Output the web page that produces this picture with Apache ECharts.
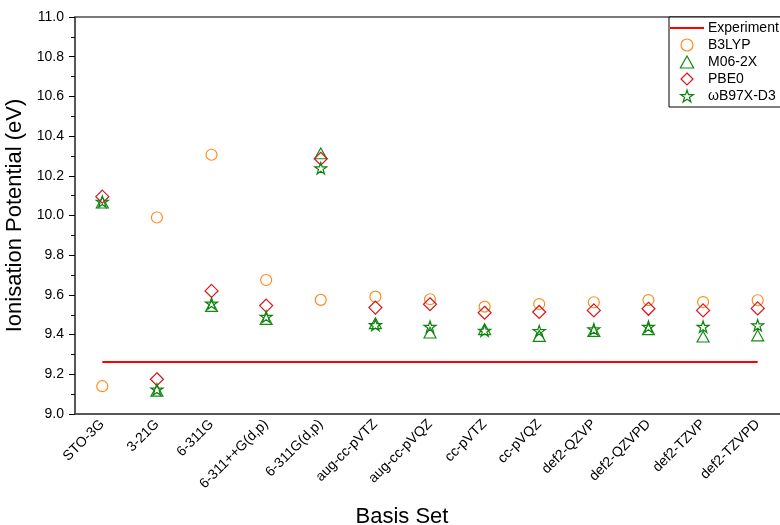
<!DOCTYPE html>
<html>
<head>
<meta charset="utf-8">
<script src="https://cdn.jsdelivr.net/npm/echarts@6/dist/echarts.min.js"></script>
<style>html,body{margin:0;padding:0;background:#fff}#c{width:780px;height:525px}</style>
</head>
<body>
<div id="c"></div>
<script>
const categories = ['STO-3G','3-21G','6-311G','6-311++G(d,p)','6-311G(d,p)','aug-cc-pVTZ','aug-cc-pVQZ','cc-pVTZ','cc-pVQZ','def2-QZVP','def2-QZVPD','def2-TZVP','def2-TZVPD'];
const experiment = [9.262,9.262,9.262,9.262,9.262,9.262,9.262,9.262,9.262,9.262,9.262,9.262,9.262];
const b3lyp = [9.14, 9.99, 10.306, 9.675, 9.575, 9.591, 9.578, 9.541, 9.554, 9.563, 9.574, 9.564, 9.573];
const m062x = [10.065, 9.117, 9.544, 9.479, 10.313, 9.457, 9.41, 9.427, 9.393, 9.418, 9.427, 9.39, 9.396];
const pbe0 = [10.095, 9.175, 9.62, 9.546, 10.286, 9.536, 9.553, 9.51, 9.514, 9.522, 9.53, 9.522, 9.532];
const wb97x = [10.07, 9.124, 9.557, 9.49, 10.238, 9.448, 9.44, 9.42, 9.418, 9.427, 9.44, 9.44, 9.447];
const yTicks = {min: 9.0, max: 11.0, interval: 0.2};

const FONT = 'Liberation Sans, Arial, sans-serif';
const AX = '#4d4d4d';
const STAR = 'path://M50,0 L61.2,34.5 L97.6,34.5 L68.2,55.9 L79.4,90.5 L50,69.1 L20.6,90.5 L31.8,55.9 L2.4,34.5 L38.8,34.5 Z';
const TRI = 'path://M50,0 L100,90 L0,90 Z';
const DIA = 'path://M50,0 L100,50 L50,100 L0,50 Z';
const LINE = 'path://M0,0 L340,0 L340,22 L0,22 Z';

const C_EXP = '#ff0000', C_B3 = '#ff8c1a', C_M06 = '#138a13', C_PBE = '#d8141e', C_WB = '#0f820f';

const chart = echarts.init(document.getElementById('c'), null, {renderer: 'canvas'});
function scatter(name, data, symbol, color, size) {
  return {
    name, type: 'scatter', data, symbol, symbolSize: size, symbolKeepAspect: true,
    itemStyle: {color: 'rgba(255,255,255,0)', borderColor: color, borderWidth: 1.2, opacity: 1},
    z: 3
  };
}
function legItem(name, icon, color) {
  return {name, icon, itemStyle: {color: 'rgba(255,255,255,0)', borderColor: color, borderWidth: 1.2}};
}
chart.setOption({
  animation: false,
  backgroundColor: '#fff',
  grid: {left: 75, top: 17, right: -5, bottom: 111, containLabel: false, outerBoundsMode: 'none',
         show: true, borderColor: AX, borderWidth: 1.5, backgroundColor: 'transparent'},
  legend: {
    orient: 'vertical', left: 669, top: 17,
    padding: [4, 40, 4, 1],
    itemWidth: 34, itemHeight: 12, itemGap: 3,
    symbolKeepAspect: true,
    backgroundColor: '#fff', borderColor: '#000', borderWidth: 1,
    textStyle: {fontFamily: FONT, fontSize: 14, lineHeight: 14, color: '#000', padding: [0,0,0,-1]},
    data: [
      {name: 'Experiment', icon: LINE, itemStyle: {color: C_EXP, borderWidth: 0}},
      legItem('B3LYP', 'circle', C_B3),
      legItem('M06-2X', TRI, C_M06),
      legItem('PBE0', DIA, C_PBE),
      legItem('ωB97X-D3', STAR, C_WB)
    ]
  },
  xAxis: {
    type: 'category', data: categories, boundaryGap: true,
    name: 'Basis Set', nameLocation: 'middle', nameGap: 92,
    nameTextStyle: {fontFamily: FONT, fontSize: 22, color: '#000', padding: [0, 56, 0, 0]},
    axisLine: {lineStyle: {color: AX, width: 1.5}},
    axisTick: {alignWithLabel: true, length: 6, lineStyle: {color: '#000'}},
    axisLabel: {rotate: 45, fontFamily: FONT, fontSize: 14, color: '#000', margin: 8, interval: 0},
    splitLine: {show: false}
  },
  yAxis: {
    type: 'value', min: yTicks.min, max: yTicks.max, interval: yTicks.interval,
    name: 'Ionisation Potential (eV)', nameLocation: 'middle', nameGap: 46,
    nameTextStyle: {fontFamily: FONT, fontSize: 22, color: '#000'},
    axisLine: {show: true, lineStyle: {color: AX, width: 1.5}},
    axisTick: {show: true, length: 6, lineStyle: {color: '#000'}},
    minorTick: {show: true, splitNumber: 2, length: 4, lineStyle: {color: '#000'}},
    axisLabel: {fontFamily: FONT, fontSize: 14, color: '#000', margin: 11, formatter: v => v.toFixed(1)},
    splitLine: {show: false}
  },
  series: [
    {name: 'Experiment', type: 'line', data: experiment, symbol: 'none',
     lineStyle: {color: C_EXP, width: 2.2}, itemStyle: {color: C_EXP}, z: 2},
    scatter('B3LYP', b3lyp, 'circle', C_B3, 11),
    scatter('M06-2X', m062x, TRI, C_M06, 12),
    scatter('PBE0', pbe0, DIA, C_PBE, 13),
    scatter('ωB97X-D3', wb97x, STAR, C_WB, 12)
  ]
});
</script>
</body>
</html>
